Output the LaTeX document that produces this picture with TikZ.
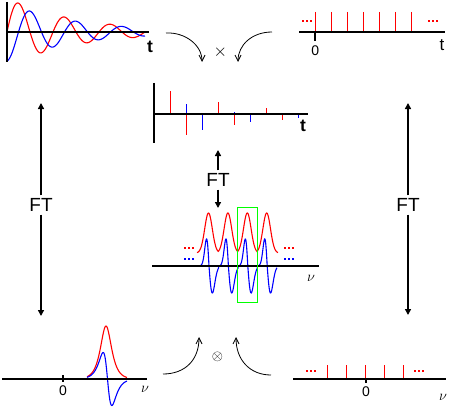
\documentclass[tikz,border=0pt]{standalone}
\usepackage{fontspec}
\setmainfont{Liberation Sans}
\usetikzlibrary{arrows.meta}
\begin{document}
\begin{tikzpicture}[x=1pt,y=-1pt,
  axthin/.style={line width=1.2pt},
  axthick/.style={line width=2pt},
  sig/.style={line width=1.1pt},
  stick/.style={line width=1pt},
  tlbl/.style={inner sep=0pt, font=\fontsize{17}{17}\selectfont},
  tbold/.style={inner sep=0pt, font=\fontsize{17.5}{17.5}\selectfont\bfseries},
  zlbl/.style={inner sep=0pt, font=\fontsize{14}{14}\selectfont},
  nulbl/.style={inner sep=0pt, font=\fontsize{15}{15}\selectfont},
  ftlbl/.style={inner sep=3pt, font=\fontsize{19}{19}\selectfont},
  ftarrow/.style={line width=2pt, -{Triangle[length=6pt,width=6pt]}},
  curvearrow/.style={line width=0.8pt, -{Straight Barb[length=6pt,width=6pt]}},
  dots/.pic={\foreach \i in {-1,0,1} \fill (\i*4-1,-1) rectangle ++(2.2,2.2);},
  declare function={
    gs(\u)=exp(-0.5*(\u)*(\u));
    pd(\v)=\v-208.5-19.4*min(3,max(0,round((\v-208.5)/19.4)));
    sw(\d)=2.9+0.45*sign(\d);
    mysech(\u)=2/(exp(\u)+exp(-1*(\u)));
    mysth(\u)=2*(exp(\u)-exp(-1*(\u)))/((exp(\u)+exp(-1*(\u)))^2);
  }
]
\useasboundingbox (0,0) rectangle (450,420);

% ---------- panel 1: damped signals ----------
\draw[sig,red] plot[domain=0:138,samples=220,smooth] ({7+\x},{32-34*exp(-\x/70)*sin(\x*7.8261)});
\draw[sig,blue] plot[domain=0:138,samples=220,smooth] ({7+\x},{32+29*exp(-\x/70)*cos(\x*7.8261)});
\draw[axthin] (7,2) -- (7,62);
\draw[axthin] (7,32) -- (149,32);
\node[tbold] (t1) at (150,46.5) {t};

% ---------- panel 2: sampling comb ----------
\foreach \k in {0,...,6} \draw[stick,red] ({315.3+16*\k},12) -- ({315.3+16*\k},32);
\pic[color=red] at (306.5,21) {dots};
\pic[color=red] at (432.5,21) {dots};
\draw[axthick] (299,32) -- (445,32);
\draw[axthick] (315.3,32) -- (315.3,41);
\node[zlbl] (z1) at (315.3,51) {0};
\node[tlbl] (t2) at (442,45) {t};

% ---------- panel 3: sampled signal ----------
\foreach \xx/\yy/\cc in {170.3/91/red,186.3/135/red,186.3/104/blue,202.3/130/blue,
  218.3/102/red,234.5/125/red,234.5/112/blue,250.3/122/blue,266.3/108/red,
  282.3/120/red,282.3/113/blue,298.3/118/blue}
  \draw[stick,\cc] (\xx,114) -- (\xx,\yy);
\draw[axthin] (154,83) -- (154,143);
\draw[axthin] (154,114) -- (308,114);
\node[tbold] (t3) at (303,126) {t};

% ---------- middle: periodic spectrum ----------
\draw[sig,red] plot[domain=197:278,samples=325] (\x,{253-40*gs(pd(\x)/3.8)});
\draw[sig,blue] plot[domain=200:277,samples=309] (\x,{266+44.5*(pd(\x-0.5)/sw(pd(\x-0.5)))*gs(pd(\x-0.5)/sw(pd(\x-0.5)))});
\pic[color=red] at (189,248) {dots};
\pic[color=blue] at (189,259) {dots};
\pic[color=red] at (289,248) {dots};
\pic[color=blue] at (289,259) {dots};
\draw[axthick] (152,266) -- (319,266);
\draw[green,line width=1pt] (237.3,207.3) rectangle (257.3,302.3);
\node[nulbl] (nu1) at (311,278) {$\nu$};

% ---------- bottom-left: line spectrum ----------
\draw[sig,red] plot[domain=87:127,samples=161] (\x,{379-53*mysech((\x-106)/4.94)});
\draw[sig,blue] plot[domain=87:127,samples=161] (\x,{379+53*mysth((\x-107.5)/4.94)});
\draw[axthick] (2,379) -- (147,379);
\draw[axthick] (63,375) -- (63,382);
\node[zlbl] (z2) at (63,391) {0};
\node[nulbl] (nu2) at (145,389) {$\nu$};

% ---------- bottom-right: comb in frequency ----------
\foreach \k in {0,...,4} \draw[stick,red] ({327.3+19*\k},365) -- ({327.3+19*\k},379);
\pic[color=red] at (310.5,371) {dots};
\pic[color=red] at (419,371) {dots};
\draw[axthick] (293,379) -- (446,379);
\draw[axthick] (365.7,379) -- (365.7,383);
\node[zlbl] (z3) at (366,391.5) {0};
\node[nulbl] (nu3) at (443,397) {$\nu$};

% ---------- FT arrows ----------
\node[ftlbl] (FTl) at (41,205) {FT};
\coordinate (FTlTop) at (41,103);
\coordinate (FTlBot) at (41,316);
\draw[ftarrow] (FTl) -- (FTlTop);
\draw[ftarrow] (FTl) -- (FTlBot);

\node[ftlbl] (FTr) at (408,205) {FT};
\coordinate (FTrTop) at (408,103);
\coordinate (FTrBot) at (408,315);
\draw[ftarrow] (FTr) -- (FTrTop);
\draw[ftarrow] (FTr) -- (FTrBot);

\node[ftlbl] (FTm) at (218,180) {FT};
\coordinate (FTmTop) at (218,150);
\coordinate (FTmBot) at (218,208);
\draw[ftarrow] (FTm) -- (FTmTop);
\draw[ftarrow] (FTm) -- (FTmBot);

% ---------- curved arrows and operators ----------
\node[inner sep=0pt, font=\fontsize{16}{16}\selectfont] (times) at (220.3,51.7) {$\times$};
\coordinate (ca1s) at (166,33);
\coordinate (ca1e) at (202,62);
\coordinate (ca2s) at (272,32);
\coordinate (ca2e) at (238,62);
\draw[curvearrow] (ca1s) .. controls +(19,-1) and +(0,-17) .. (ca1e);
\draw[curvearrow] (ca2s) .. controls +(-20,0) and +(0,-17) .. (ca2e);

\node[inner sep=0pt, font=\fontsize{15}{15}\selectfont] (otimes) at (217.5,357) {$\otimes$};
\coordinate (cb1s) at (163,374);
\coordinate (cb1e) at (199,337);
\coordinate (cb2s) at (271,375);
\coordinate (cb2e) at (236,337);
\draw[curvearrow] (cb1s) .. controls +(22,0) and +(0,23) .. (cb1e);
\draw[curvearrow] (cb2s) .. controls +(-21,0) and +(0,23) .. (cb2e);
\end{tikzpicture}
\end{document}
